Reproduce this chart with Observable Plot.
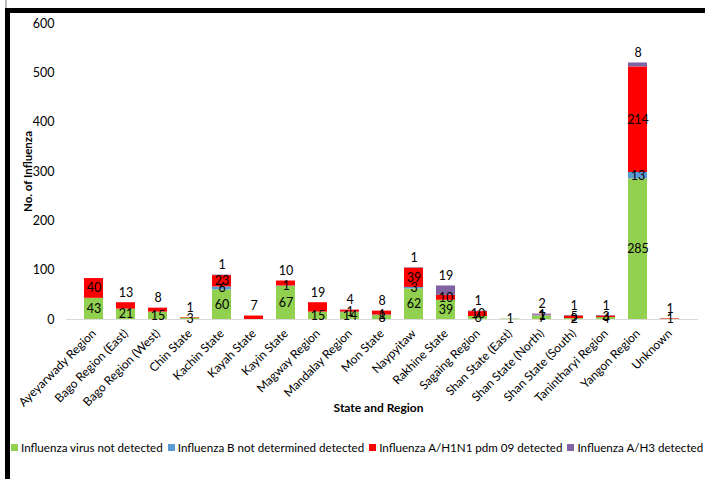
<!DOCTYPE html>
<html><head><meta charset="utf-8">
<script src="https://cdn.jsdelivr.net/npm/d3@7"></script>
<script src="https://cdn.jsdelivr.net/npm/@observablehq/plot@0.6"></script>
<style>
body{margin:0;background:#fff;font-family:Lato,"Liberation Sans",Arial,sans-serif;}
#wrap{position:relative;width:705px;height:479px;overflow:hidden;background:#fff}
#frame{position:absolute;left:5px;top:8px;width:760px;height:520px;border-left:5px solid #000;border-top:5px solid #000;box-sizing:border-box}
#tick{position:absolute;left:5px;top:0;width:2px;height:8px;background:#bbb}
#chart{position:absolute;left:0;top:0}
#legend{position:absolute;left:11px;top:441px;font-size:11.6px;color:#000;white-space:nowrap;display:flex;align-items:center}
#legend .sw{display:inline-block;width:7px;height:7px;margin-right:3px}
#legend .it{display:flex;align-items:center;margin-right:5px}
</style>
</head><body>
<div id="wrap"><div id="tick"></div><div id="frame"></div><div id="chart"></div><div id="legend"></div></div>
<script>
const regions = ["Ayeyarwady Region","Bago Region (East)","Bago Region (West)","Chin State","Kachin State","Kayah State","Kayin State","Magway Region","Mandalay Region","Mon State","Naypyitaw","Rakhine State","Sagaing Region","Shan State (East)","Shan State (North)","Shan State (South)","Tanintharyi Region","Yangon Region","Unknown"];
const series = ["Influenza virus not detected","Influenza B not determined detected","Influenza A/H1N1 pdm 09 detected","Influenza A/H3 detected"];
const colors = ["#92d050","#5b9bd5","#ff0000","#8064a2"];
const notDetected = [43,21,15,3,60,0,67,15,14,8,62,39,6,1,7,2,4,285,1];
const fluB        = [0,0,0,0,6,0,1,0,1,1,3,0,0,0,1,0,0,13,0];
const h1n1        = [40,13,8,1,23,7,10,19,4,8,39,10,10,0,1,5,3,214,1];
const h3          = [0,0,0,0,1,0,0,0,0,0,1,19,1,0,2,1,1,8,0];
const yTicks = [0,100,200,300,400,500,600];

const seriesValues = [notDetected, fluB, h1n1, h3];
const rows = [];
const midLabels = [];
const topLabels = [];
regions.forEach((r, i) => {
  let base = 0;
  let lastK = -1;
  seriesValues.forEach((vals, k) => { if (vals[i] > 0) lastK = k; });
  seriesValues.forEach((vals, k) => {
    const v = vals[i];
    rows.push({region: r, series: series[k], value: v});
    if (v > 0) {
      if (k === lastK && k > 0 && v < 20) topLabels.push({region: r, y: base + v, text: String(v)});
      else midLabels.push({region: r, y: base + v / 2, text: String(v)});
    }
    base += v;
  });
});

const chart = Plot.plot({
  width: 705, height: 430,
  marginTop: 23, marginBottom: 111, marginLeft: 66, marginRight: 7,
  style: {fontFamily: "Lato, 'Liberation Sans', Arial, sans-serif", fontSize: "12.5px", color: "#000", background: "transparent"},
  x: {domain: regions, padding: 0.4, label: null},
  y: {domain: [0, 600], label: null},
  color: {domain: series, range: colors},
  marks: [
    Plot.ruleY([0], {stroke: "#d9d9d9", strokeWidth: 1}),
    Plot.barY(rows, Plot.stackY({x: "region", y: "value", fill: "series"})),
    Plot.text(midLabels, {x: "region", y: "y", text: "text", fontSize: 12.5, fill: "#000"}),
    Plot.text(topLabels, {x: "region", y: "y", text: "text", fontSize: 12.5, fill: "#000", dy: -10}),
    Plot.axisY({ticks: yTicks, tickSize: 0, tickPadding: 12, label: null, fontSize: 12.5}),
    Plot.axisX({tickRotate: -45, tickSize: 0, tickPadding: 12, label: null, fontSize: 12}),
    Plot.text(["No. of Influenza"], {frameAnchor: "left", textAnchor: "middle", rotate: -90, dx: -38, fontWeight: "bold", fontSize: 11.5}),
    Plot.text(["State and Region"], {frameAnchor: "bottom", textAnchor: "middle", dy: 92, dx: -4, fontWeight: "bold", fontSize: 12})
  ]
});
document.getElementById("chart").appendChild(chart);

const legend = document.getElementById("legend");
series.forEach((s, k) => {
  const it = document.createElement("span");
  it.className = "it";
  const sw = document.createElement("span");
  sw.className = "sw";
  sw.style.background = colors[k];
  it.appendChild(sw);
  it.appendChild(document.createTextNode(s));
  legend.appendChild(it);
});
</script>
</body></html>
